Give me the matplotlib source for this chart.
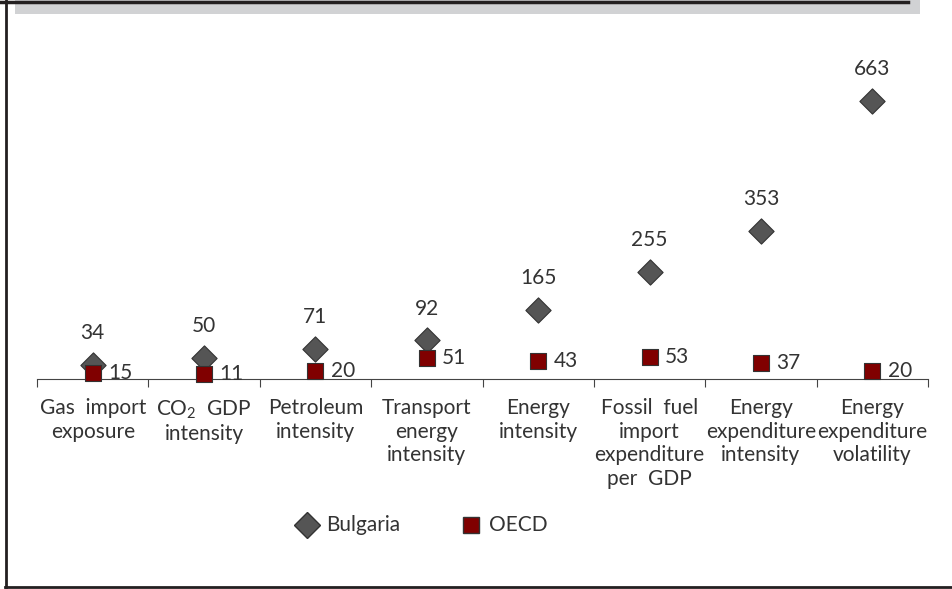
import matplotlib
matplotlib.use("Agg")
import matplotlib.pyplot as plt
from matplotlib.lines import Line2D
from matplotlib.patches import Rectangle

categories = ["Gas  import\nexposure", "CO$_{2}$  GDP\nintensity", "Petroleum\nintensity",
              "Transport\nenergy\nintensity", "Energy\nintensity",
              "Fossil  fuel\nimport\nexpenditure\nper  GDP", "Energy\nexpenditure\nintensity",
              "Energy\nexpenditure\nvolatility"]
bulgaria = [34, 50, 71, 92, 165, 255, 353, 663]
oecd = [15, 11, 20, 51, 43, 53, 37, 20]

plt.rcParams['font.family'] = ['Lato', 'DejaVu Sans']
plt.rcParams['mathtext.default'] = 'regular'
txt = '#333333'
grey = '#555555'
red = '#800000'
fs = 15

W, H = 952, 589
fig = plt.figure(figsize=(W / 100, H / 100), dpi=100)
ax = fig.add_axes([37 / W, (H - 379) / H, 891 / W, 293.3 / H])

x = list(range(len(categories)))
ax.scatter(x, bulgaria, marker='D', s=165, color=grey, edgecolor='#333333', linewidth=0.8, zorder=3, clip_on=False)
ax.scatter(x, oecd, marker='s', s=135, color=red, edgecolor='#333333', linewidth=0.8, zorder=4, clip_on=False)

for i in x:
    ax.annotate(str(bulgaria[i]), (i, bulgaria[i]), xytext=(0, 23), textcoords='offset points',
                ha='center', va='center', fontsize=fs, color=txt)
    ax.annotate(str(oecd[i]), (i, oecd[i]), xytext=(11, 0), textcoords='offset points',
                ha='left', va='center', fontsize=fs, color=txt)

ax.set_xlim(-0.5, len(categories) - 0.5)
ax.set_ylim(0, 700)
for s in ['top', 'right', 'left']:
    ax.spines[s].set_visible(False)
ax.spines['bottom'].set_color('#444444')
ax.set_yticks([])
ax.set_xticks([i - 0.5 for i in range(len(categories) + 1)])
ax.set_xticklabels([])
ax.tick_params(axis='x', length=6, color='#444444')
for i, c in enumerate(categories):
    ax.text(i, -0.066, c, transform=ax.get_xaxis_transform(), ha='center', va='top',
            fontsize=fs, color=txt, linespacing=1.22)

# legend
fy = (H - 525) / H
fig.add_artist(Line2D([307 / W], [fy], marker='D', markersize=13.5, color=grey, markeredgecolor='#333333', linestyle='none'))
fig.text(326 / W, fy, "Bulgaria", ha='left', va='center', fontsize=fs, color=txt)
fig.add_artist(Line2D([471 / W], [fy], marker='s', markersize=11.5, color=red, markeredgecolor='#333333', linestyle='none'))
fig.text(489 / W, fy, "OECD", ha='left', va='center', fontsize=fs, color=txt)

# frame
fig.add_artist(Rectangle((15 / W, (H - 14) / H), 905 / W, 14 / H, transform=fig.transFigure,
                         facecolor='#d1d2d4', edgecolor='none', zorder=0))
fig.add_artist(Line2D([0, 908 / W], [(H - 1.5) / H] * 2, color='#231f20', linewidth=2.5))
fig.add_artist(Line2D([6 / W, 6 / W], [1, (H - 587) / H], color='#231f20', linewidth=2))
fig.add_artist(Line2D([5 / W, 1], [(H - 587) / H] * 2, color='#231f20', linewidth=2))

fig.savefig("out.png", dpi=100)
